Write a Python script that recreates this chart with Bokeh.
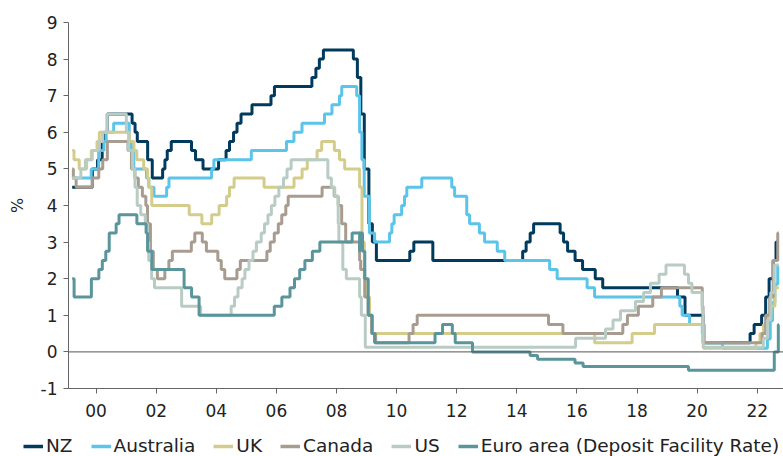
import pandas as pd
from datetime import datetime
from bokeh.plotting import figure
from bokeh.layouts import column
from bokeh.models import Range1d, FixedTicker, DatetimeTickFormatter, Span, Legend, LegendItem
from bokeh.embed import file_html
from bokeh.resources import INLINE

END = "2022-09-20"

nz_dates = ["1999-03-17","1999-11-17","2000-01-19","2000-03-15","2000-04-19","2000-05-17","2001-03-14","2001-04-19","2001-05-16","2001-09-19","2001-11-14","2002-03-20","2002-04-17","2002-05-15","2002-07-03","2003-03-06","2003-04-24","2003-07-24","2004-01-29","2004-04-29","2004-06-10","2004-07-29","2004-09-09","2004-10-28","2005-03-10","2005-10-27","2005-12-08","2007-03-08","2007-04-26","2007-06-07","2007-07-26","2008-07-24","2008-09-11","2008-10-23","2008-12-04","2009-01-29","2009-03-12","2009-04-30","2010-06-10","2010-07-29","2011-03-17","2014-03-13","2014-04-24","2014-06-12","2014-07-24","2015-06-11","2015-07-23","2015-09-10","2015-12-10","2016-03-10","2016-08-11","2016-11-10","2019-05-08","2019-08-07","2020-03-16","2021-10-06","2021-11-24","2022-02-23","2022-04-13","2022-05-25","2022-07-13","2022-08-17",END]
nz_rates = [4.50,5.00,5.25,5.75,6.00,6.50,6.25,6.00,5.75,5.25,4.75,5.00,5.25,5.50,5.75,5.50,5.25,5.00,5.25,5.50,5.75,6.00,6.25,6.50,6.75,7.00,7.25,7.50,7.75,8.00,8.25,8.00,7.50,6.50,5.00,3.50,3.00,2.50,2.75,3.00,2.50,2.75,3.00,3.25,3.50,3.25,3.00,2.75,2.50,2.25,2.00,1.75,1.50,1.00,0.25,0.50,0.75,1.00,1.50,2.00,2.50,3.00,3.00]

au_dates = ["1999-03-17","1999-11-03","2000-02-02","2000-04-05","2000-05-03","2000-08-02","2001-02-07","2001-03-07","2001-04-04","2001-09-05","2001-10-03","2001-12-05","2002-05-08","2002-06-05","2003-11-05","2003-12-03","2005-03-02","2006-05-03","2006-08-02","2006-11-08","2007-08-08","2007-11-07","2008-02-06","2008-03-05","2008-09-03","2008-10-08","2008-11-05","2008-12-03","2009-02-04","2009-04-08","2009-10-07","2009-11-04","2009-12-02","2010-03-03","2010-04-07","2010-05-05","2010-11-03","2011-11-02","2011-12-07","2012-05-02","2012-06-06","2012-10-03","2012-12-05","2013-05-08","2013-08-07","2015-02-04","2015-05-06","2016-05-04","2016-08-03","2019-06-05","2019-07-03","2019-10-02","2020-03-04","2020-03-20","2020-11-04","2022-05-04","2022-06-08","2022-07-06","2022-08-03","2022-09-07",END]
au_rates = [4.75,5.00,5.50,5.75,6.00,6.25,5.75,5.50,5.00,4.75,4.50,4.25,4.50,4.75,5.00,5.25,5.50,5.75,6.00,6.25,6.50,6.75,7.00,7.25,7.00,6.00,5.25,4.25,3.25,3.00,3.25,3.50,3.75,4.00,4.25,4.50,4.75,4.50,4.25,3.75,3.50,3.25,3.00,2.75,2.50,2.25,2.00,1.75,1.50,1.25,1.00,0.75,0.50,0.25,0.10,0.35,0.85,1.35,1.85,2.35,2.35]

uk_dates = ["1999-03-17","1999-04-08","1999-06-10","1999-09-08","1999-11-04","2000-01-13","2000-02-10","2001-02-08","2001-04-05","2001-05-10","2001-08-02","2001-09-18","2001-10-04","2001-11-08","2003-02-06","2003-07-10","2003-11-06","2004-02-05","2004-05-06","2004-06-10","2004-08-05","2005-08-04","2006-08-03","2006-11-09","2007-01-11","2007-05-10","2007-07-05","2007-12-06","2008-02-07","2008-04-10","2008-10-08","2008-11-06","2008-12-04","2009-01-08","2009-02-05","2009-03-05","2016-08-04","2017-11-02","2018-08-02","2020-03-11","2020-03-19","2021-12-16","2022-02-03","2022-03-17","2022-05-05","2022-06-16","2022-08-04",END]
uk_rates = [5.50,5.25,5.00,5.25,5.50,5.75,6.00,5.75,5.50,5.25,5.00,4.75,4.50,4.00,3.75,3.50,3.75,4.00,4.25,4.50,4.75,4.50,4.75,5.00,5.25,5.50,5.75,5.50,5.25,5.00,4.50,3.00,2.00,1.50,1.00,0.50,0.25,0.50,0.75,0.25,0.10,0.25,0.50,0.75,1.00,1.25,1.75,1.75]

ca_dates = ["1999-03-17","1999-03-31","1999-05-04","1999-11-17","2000-02-03","2000-03-22","2000-05-17","2001-01-23","2001-03-06","2001-04-17","2001-05-29","2001-07-17","2001-08-28","2001-09-17","2001-10-23","2001-11-27","2002-01-15","2002-04-16","2002-06-04","2002-07-16","2003-03-04","2003-04-15","2003-07-15","2003-09-03","2004-01-20","2004-03-02","2004-04-13","2004-09-08","2004-10-19","2005-09-07","2005-10-18","2005-12-06","2006-01-24","2006-03-07","2006-04-25","2006-05-24","2007-07-10","2007-12-04","2008-01-22","2008-03-04","2008-04-22","2008-10-08","2008-10-21","2008-12-09","2009-01-20","2009-03-03","2009-04-21","2010-06-01","2010-07-20","2010-09-08","2015-01-21","2015-07-15","2017-07-12","2017-09-06","2018-01-17","2018-07-11","2018-10-24","2020-03-04","2020-03-13","2020-03-27","2022-03-02","2022-04-13","2022-06-01","2022-07-13","2022-09-07",END]
ca_rates = [5.00,4.75,4.50,4.75,5.00,5.25,5.75,5.50,5.00,4.75,4.50,4.25,4.00,3.50,2.75,2.25,2.00,2.25,2.50,2.75,3.00,3.25,3.00,2.75,2.50,2.25,2.00,2.25,2.50,2.75,3.00,3.25,3.50,3.75,4.00,4.25,4.50,4.25,4.00,3.50,3.00,2.50,2.25,1.50,1.00,0.50,0.25,0.50,0.75,1.00,0.75,0.50,0.75,1.00,1.25,1.50,1.75,1.25,0.75,0.25,0.50,1.00,1.50,2.50,3.25,3.25]

us_dates = ["1999-03-17","1999-06-30","1999-08-24","1999-11-16","2000-02-02","2000-03-21","2000-05-16","2001-01-03","2001-01-31","2001-03-20","2001-04-18","2001-05-15","2001-06-27","2001-08-21","2001-09-17","2001-10-02","2001-11-06","2001-12-11","2002-11-06","2003-06-25","2004-06-30","2004-08-10","2004-09-21","2004-11-10","2004-12-14","2005-02-02","2005-03-22","2005-05-03","2005-06-30","2005-08-09","2005-09-20","2005-11-01","2005-12-13","2006-01-31","2006-03-28","2006-05-10","2006-06-29","2007-09-18","2007-10-31","2007-12-11","2008-01-22","2008-01-30","2008-03-18","2008-04-30","2008-10-08","2008-10-29","2008-12-16","2015-12-16","2016-12-14","2017-03-15","2017-06-14","2017-12-13","2018-03-21","2018-06-13","2018-09-26","2018-12-19","2019-07-31","2019-09-18","2019-10-30","2020-03-03","2020-03-15","2022-03-16","2022-05-04","2022-06-15","2022-07-27",END]
us_rates = [4.75,5.00,5.25,5.50,5.75,6.00,6.50,6.00,5.50,5.00,4.50,4.00,3.75,3.50,3.00,2.50,2.00,1.75,1.25,1.00,1.25,1.50,1.75,2.00,2.25,2.50,2.75,3.00,3.25,3.50,3.75,4.00,4.25,4.50,4.75,5.00,5.25,4.75,4.50,4.25,3.50,3.00,2.25,2.00,1.50,1.00,0.125,0.375,0.625,0.875,1.125,1.375,1.625,1.875,2.125,2.375,2.125,1.875,1.625,1.125,0.125,0.375,0.875,1.625,2.375,2.375]

ea_dates = ["1999-03-17","1999-04-09","1999-11-05","2000-02-04","2000-03-17","2000-04-28","2000-06-09","2000-09-01","2000-10-06","2001-05-11","2001-08-31","2001-09-18","2001-11-09","2002-12-06","2003-03-07","2003-06-06","2005-12-06","2006-03-08","2006-06-15","2006-08-09","2006-10-11","2006-12-13","2007-03-14","2007-06-13","2008-07-09","2008-10-08","2008-10-09","2008-11-12","2008-12-10","2009-01-21","2009-03-11","2009-04-08","2011-04-13","2011-07-13","2011-11-09","2011-12-14","2012-07-11","2014-06-11","2014-09-10","2015-12-09","2016-03-16","2019-09-18","2022-07-27","2022-09-14",END]
ea_rates = [2.00,1.50,2.00,2.25,2.50,2.75,3.25,3.50,3.75,3.50,3.25,2.75,2.25,1.75,1.50,1.00,1.25,1.50,1.75,2.00,2.25,2.50,2.75,3.00,3.25,2.75,3.25,2.75,2.00,1.00,0.50,0.25,0.50,0.75,0.50,0.25,0.00,-0.10,-0.20,-0.30,-0.40,-0.50,0.00,0.75,0.75]

series_names = ["NZ", "Australia", "UK", "Canada", "US", "Euro area (Deposit Facility Rate)"]
series_dates = [nz_dates, au_dates, uk_dates, ca_dates, us_dates, ea_dates]
series_rates = [nz_rates, au_rates, uk_rates, ca_rates, us_rates, ea_rates]
colors = ["#003a5c", "#5ac4e9", "#d3cc8b", "#a89c90", "#b9ccc4", "#5a959c"]

y_ticks = [-1, 0, 1, 2, 3, 4, 5, 6, 7, 8, 9]
x_tick_years = [2000, 2002, 2004, 2006, 2008, 2010, 2012, 2014, 2016, 2018, 2020, 2022]

FONT = "DejaVu Sans"

p = figure(width=783, height=424, output_backend="svg", toolbar_location=None,
           x_axis_type="datetime",
           x_range=Range1d(datetime(1999, 1, 31), datetime(2022, 11, 16)),
           y_range=Range1d(-1, 9),
           min_border_left=68, min_border_right=0, min_border_top=22, min_border_bottom=36)
p.outline_line_color = None
p.grid.visible = False
p.background_fill_color = "white"
p.frame_align = False

zero = Span(location=0, dimension="width", line_color="#555555", line_width=1)
p.add_layout(zero)

for name, d, r, c in zip(series_names, series_dates, series_rates, colors):
    xs = pd.to_datetime(d)
    p.step(xs, r, mode="after", line_color=c, line_width=3)

for ax in [p.xaxis[0], p.yaxis[0]]:
    ax.axis_line_color = "#666666"
    ax.major_tick_line_color = "#666666"
    ax.minor_tick_line_color = None
    ax.major_tick_in = 0
    ax.major_tick_out = 5
    ax.major_label_text_font = FONT
    ax.major_label_text_font_size = "17px"
    ax.major_label_text_color = "#222222"

p.yaxis.ticker = FixedTicker(ticks=y_ticks)
p.yaxis.major_label_overrides = {-1: "-1"}
p.yaxis.major_label_standoff = 6
p.yaxis.axis_label = "%"
p.yaxis.axis_label_text_font = FONT
p.yaxis.axis_label_text_font_size = "16px"
p.yaxis.axis_label_text_font_style = "normal"
p.yaxis.axis_label_text_color = "#222222"
p.yaxis.axis_label_standoff = 11

x_ticks = [pd.Timestamp(f"{y}-01-01").value / 1e6 for y in x_tick_years]
p.xaxis.ticker = FixedTicker(ticks=x_ticks)
p.xaxis.formatter = DatetimeTickFormatter(years="%y", months="%y", days="%y", hours="%y",
                                          minutes="%y", seconds="%y", milliseconds="%y",
                                          microseconds="%y", minsec="%y", hourmin="%y")
p.xaxis.major_label_standoff = 10

# legend strip as its own figure; its swatch lines sit outside its visible range
lg = figure(width=783, height=32, output_backend="svg", toolbar_location=None,
            x_range=Range1d(0, 1), y_range=Range1d(0, 1),
            min_border_left=0, min_border_right=0, min_border_top=0, min_border_bottom=0)
lg.outline_line_color = None
lg.axis.visible = False
lg.grid.visible = False
lg.frame_align = False
items = []
for name, c in zip(series_names, colors):
    r = lg.line([5, 6], [5, 6], line_color=c, line_width=3.5)
    items.append(LegendItem(label=name, renderers=[r]))
legend = Legend(items=items, orientation="horizontal", location=(23, 0),
                label_text_font=FONT, label_text_font_size="18.5px", label_text_color="#222222",
                glyph_width=20, glyph_height=20, label_height=20, label_standoff=3,
                spacing=18, padding=0, margin=0, border_line_color=None,
                background_fill_alpha=0)
lg.add_layout(legend, "center")

layout = column(p, lg, spacing=0)
open("out.html", "w").write(file_html(layout, INLINE))
